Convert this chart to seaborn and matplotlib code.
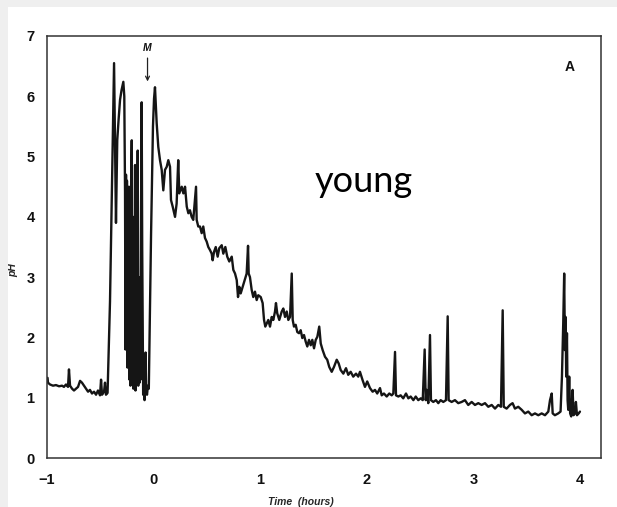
import matplotlib
matplotlib.use("Agg")
import matplotlib.pyplot as plt
from matplotlib.patches import Rectangle
import seaborn as sns
import pandas as pd

# ---- data (time in hours, pH) ----
time_h = [
    -0.995, -0.991, -0.972, -0.944, -0.916, -0.887, -0.859, -0.841, -0.822, -0.803,
    -0.794, -0.784, -0.765, -0.747, -0.728, -0.709, -0.690, -0.672, -0.653, -0.634,
    -0.615, -0.597, -0.578, -0.559, -0.540, -0.522, -0.503, -0.493, -0.484, -0.465,
    -0.456, -0.447, -0.432,
    -0.409, -0.371, -0.353, -0.341, -0.329, -0.315, -0.301, -0.284, -0.275,
    -0.268, -0.264, -0.259, -0.254, -0.250, -0.245, -0.240, -0.236, -0.231, -0.226,
    -0.221, -0.217, -0.212, -0.205, -0.201, -0.195, -0.190, -0.184, -0.179, -0.174,
    -0.170, -0.165, -0.160, -0.156, -0.149, -0.144, -0.137, -0.132, -0.128, -0.123,
    -0.118, -0.112, -0.107, -0.101, -0.098, -0.090, -0.085, -0.081, -0.075, -0.071,
    -0.062, -0.053, -0.045, -0.024, -0.006, 0.004, 0.013,
    0.029, 0.044, 0.060, 0.076, 0.091, 0.107, 0.123, 0.138, 0.154, 0.163,
    0.179, 0.201, 0.216, 0.231, 0.241, 0.264, 0.279, 0.295, 0.311, 0.326,
    0.341, 0.357, 0.372, 0.398, 0.404, 0.419, 0.435, 0.451, 0.466, 0.482,
    0.498, 0.513, 0.529, 0.545, 0.554, 0.567, 0.583, 0.601, 0.616, 0.639,
    0.654, 0.673, 0.691, 0.710, 0.733, 0.748, 0.764, 0.780, 0.792, 0.804,
    0.817, 0.836, 0.855, 0.873, 0.886, 0.892, 0.904, 0.920, 0.935, 0.951,
    0.967, 0.982, 1.005, 1.023, 1.036, 1.048, 1.061, 1.076, 1.092, 1.108,
    1.123, 1.139, 1.148, 1.160, 1.179, 1.202, 1.217, 1.233, 1.249, 1.264,
    1.280, 1.296, 1.305, 1.317, 1.333, 1.348, 1.364, 1.380, 1.395, 1.411,
    1.427, 1.442, 1.458, 1.474, 1.489, 1.505, 1.521, 1.536, 1.554, 1.568,
    1.586, 1.608, 1.629, 1.648, 1.671, 1.692, 1.718, 1.736, 1.755, 1.780,
    1.805, 1.826, 1.849, 1.873, 1.899, 1.920, 1.936, 1.961, 1.983, 2.004,
    2.030, 2.055, 2.077, 2.098, 2.124, 2.140, 2.161, 2.187, 2.211, 2.234,
    2.249, 2.265, 2.274, 2.296, 2.318, 2.342, 2.368, 2.390, 2.412, 2.437,
    2.459, 2.483, 2.506, 2.525, 2.543, 2.553, 2.562, 2.577, 2.593, 2.602,
    2.624, 2.649, 2.671, 2.693, 2.718, 2.743, 2.759, 2.768, 2.796, 2.827,
    2.858, 2.890, 2.921, 2.952, 2.984, 3.015, 3.046, 3.078, 3.109, 3.140,
    3.172, 3.203, 3.234, 3.259, 3.275, 3.285, 3.312, 3.343, 3.368, 3.390,
    3.421, 3.453, 3.484, 3.515, 3.547, 3.578, 3.609, 3.641, 3.672, 3.703,
    3.719, 3.735, 3.744, 3.765, 3.796, 3.818, 3.831, 3.843, 3.852, 3.859,
    3.865, 3.871, 3.878, 3.884, 3.890, 3.899, 3.908, 3.918, 3.931, 3.940,
    3.953, 3.962, 3.972, 3.988, 4.000,
]
ph = [
    1.33, 1.25, 1.22, 1.20, 1.21, 1.19, 1.20, 1.18, 1.22, 1.18,
    1.47, 1.20, 1.15, 1.12, 1.15, 1.18, 1.28, 1.25, 1.20, 1.15,
    1.10, 1.13, 1.07, 1.10, 1.05, 1.12, 1.04, 1.30, 1.05, 1.10,
    1.25, 1.05, 1.08,
    2.60, 6.55, 3.90, 5.27, 5.60, 5.94, 6.10, 6.24, 6.00,
    4.40, 1.80, 4.70, 2.50, 4.60, 1.50, 4.20, 2.20, 4.50, 1.30,
    3.80, 1.20, 4.20, 5.27, 1.50, 3.90, 1.15, 4.00, 1.30, 4.86,
    1.12, 3.50, 1.40, 2.80, 5.10, 1.20, 3.00, 1.25, 2.50, 1.30,
    4.00, 5.90, 3.50, 1.80, 1.05, 1.20, 0.96, 1.10, 1.75, 1.15,
    1.05, 1.20, 1.15, 3.70, 5.50, 5.96, 6.15,
    5.55, 5.16, 4.94, 4.78, 4.44, 4.78, 4.83, 4.94, 4.83, 4.28,
    4.17, 4.00, 4.22, 4.94, 4.39, 4.50, 4.39, 4.50, 4.17, 4.06,
    4.11, 4.00, 3.95, 4.50, 3.95, 3.84, 3.84, 3.73, 3.84, 3.65,
    3.59, 3.50, 3.45, 3.39, 3.28, 3.42, 3.50, 3.34, 3.48, 3.53,
    3.39, 3.50, 3.34, 3.26, 3.34, 3.12, 3.06, 2.95, 2.67, 2.84,
    2.73, 2.84, 2.95, 3.06, 3.52, 3.06, 3.00, 2.79, 2.67, 2.76,
    2.62, 2.70, 2.67, 2.57, 2.29, 2.18, 2.23, 2.29, 2.18, 2.34,
    2.29, 2.43, 2.57, 2.40, 2.29, 2.43, 2.48, 2.34, 2.43, 2.29,
    2.34, 3.06, 2.29, 2.18, 2.21, 2.09, 2.07, 2.12, 1.99, 2.04,
    1.93, 1.85, 1.96, 1.87, 1.96, 1.82, 1.96, 2.01, 2.18, 1.90,
    1.79, 1.68, 1.63, 1.51, 1.43, 1.51, 1.63, 1.57, 1.46, 1.40,
    1.49, 1.38, 1.43, 1.35, 1.40, 1.35, 1.43, 1.29, 1.18, 1.27,
    1.16, 1.10, 1.13, 1.07, 1.16, 1.04, 1.07, 1.02, 1.07, 1.04,
    1.07, 1.76, 1.04, 1.02, 1.04, 0.99, 1.07, 0.99, 1.02, 0.96,
    1.02, 0.96, 0.99, 0.96, 1.80, 0.96, 1.13, 0.91, 2.04, 0.96,
    0.93, 0.96, 0.91, 0.96, 0.93, 0.96, 2.35, 0.96, 0.93, 0.96,
    0.91, 0.93, 0.96, 0.88, 0.93, 0.88, 0.91, 0.88, 0.91, 0.85,
    0.88, 0.82, 0.88, 0.85, 2.45, 0.85, 0.82, 0.88, 0.91, 0.82,
    0.85, 0.80, 0.74, 0.77, 0.71, 0.74, 0.71, 0.74, 0.71, 0.77,
    0.96, 1.07, 0.74, 0.71, 0.74, 0.77, 1.35, 2.23, 3.06, 1.79,
    2.34, 1.35, 2.07, 0.96, 0.80, 1.35, 0.74, 0.69, 1.13, 0.71,
    0.74, 0.93, 0.71, 0.74, 0.77,
]

x_ticks = [-1, 0, 1, 2, 3, 4]
x_tick_labels = ["\u22121", "0", "1", "2", "3", "4"]
y_ticks = [0, 1, 2, 3, 4, 5, 6, 7]

df = pd.DataFrame({"Time (hours)": time_h, "pH": ph})

sns.set_theme(style="white")
plt.rcParams["font.family"] = ["Liberation Sans", "DejaVu Sans"]

fig = plt.figure(figsize=(6.17, 5.07), dpi=100, facecolor="white")
# light grey margins of the screenshot
fig.patches.append(Rectangle((0, 0.986), 1, 0.014, transform=fig.transFigure,
                             facecolor="#efefef", edgecolor="none", zorder=0))
fig.patches.append(Rectangle((0, 0), 0.013, 1, transform=fig.transFigure,
                             facecolor="#efefef", edgecolor="none", zorder=0))

ax = fig.add_axes([0.0762, 0.0966, 0.8978, 0.8324])
ax.set_facecolor("white")

sns.lineplot(data=df, x="Time (hours)", y="pH", ax=ax, color="#151515",
             linewidth=1.7, sort=False, estimator=None)

ax.set_xlim(-1.0, 4.197)
ax.set_ylim(0, 7)
ax.set_xticks(x_ticks)
ax.set_xticklabels(x_tick_labels)
ax.set_yticks(y_ticks)

for sp in ax.spines.values():
    sp.set_visible(True)
    sp.set_color("#333333")
    sp.set_linewidth(1.1)

ax.tick_params(axis="both", which="major", direction="out", length=7, width=1.2,
               color="#333333", labelsize=10.5, labelcolor="#111111")
ax.tick_params(axis="x", pad=4)
ax.tick_params(axis="y", pad=2)
for lab in ax.get_xticklabels() + ax.get_yticklabels():
    lab.set_fontweight("bold")

ax.set_xlabel("Time  (hours)", fontsize=7.5, fontweight="bold", fontstyle="italic")
ax.xaxis.set_label_coords(0.459, -0.092)
ax.set_ylabel("pH", fontsize=7.5, fontweight="bold", fontstyle="italic")
ax.yaxis.set_label_coords(-0.052, 0.445)

# marker M with arrow
ax.annotate("", xy=(-0.057, 6.2), xytext=(-0.057, 6.68),
            arrowprops=dict(arrowstyle="->", lw=0.9, color="#222222",
                            mutation_scale=7))
ax.text(-0.057, 6.80, "M", fontsize=7.5, fontweight="bold", fontstyle="italic",
        ha="center", va="center", color="#111111")

ax.text(3.90, 6.49, "A", fontsize=10, fontweight="bold", ha="center",
        va="center", color="#111111")

ax.text(1.97, 4.58, "young", fontsize=26, ha="center", va="center",
        color="black", family=["Lato", "DejaVu Sans"])

fig.savefig("out.png", dpi=100, facecolor=fig.get_facecolor())
